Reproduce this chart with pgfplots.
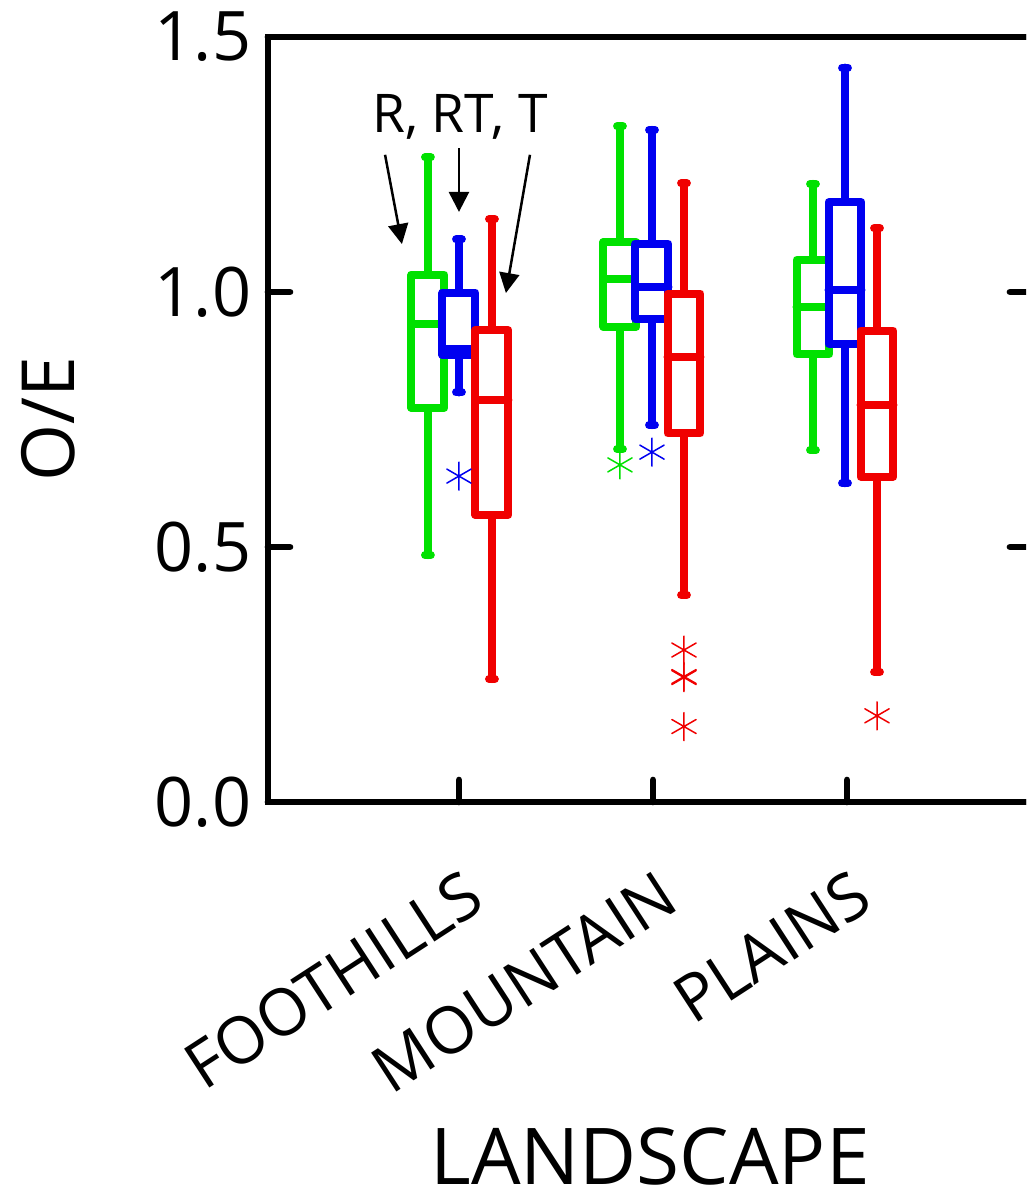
\documentclass[border=0pt]{standalone}
\usepackage{fontspec}
\setmainfont{Open Sans}
\usepackage{pgfplots}
\pgfplotsset{compat=1.18}
\usepgfplotslibrary{statistics}
\usetikzlibrary{arrows.meta}
\definecolor{cg}{RGB}{0,225,0}
\definecolor{cb}{RGB}{0,0,240}
\definecolor{cr}{RGB}{240,0,0}
\begin{document}
\begin{tikzpicture}
\path[use as bounding box] (-80.4pt,-117.9pt) rectangle (227.4pt,240.6pt);
\clip (-80.4pt,-117.9pt) rectangle (227.4pt,240.6pt);
\begin{axis}[
  at={(0pt,0pt)}, anchor=south west,
  scale only axis, width=229.2pt, height=229.5pt,
  xmin=0.0155, xmax=3.954, ymin=0, ymax=1.5,
  axis line style={line width=2pt},
  tick align=inside, xtick pos=bottom, ytick pos=both,
  major tick length=6.6pt,
  tick style={line width=2pt, line cap=round, black},
  xtick={1,2,3}, xticklabels={FOOTHILLS,MOUNTAIN,PLAINS},
  ytick={0,0.5,1,1.5}, yticklabels={0.0,0.5,1.0,1.5},
  yticklabel style={font=\fontsize{20.5}{24}\selectfont, xshift=-1.5pt},
  xticklabel style={font=\fontsize{19.5}{24}\selectfont, rotate=33, anchor=north east, xshift=-6.5pt, yshift=-13.5pt},
  xlabel={LANDSCAPE}, ylabel={O/E},
  every axis x label/.style={at={(axis description cs:0.5,-0.463)}, anchor=center, font=\fontsize{23.5}{28}\selectfont},
  every axis y label/.style={at={(axis description cs:-0.288,0.5)}, anchor=center, rotate=90, font=\fontsize{22}{26}\selectfont},
  clip=false,
  boxplot/draw direction=y,
  boxplot/box extend=0.17,
  boxplot/whisker extend=0.03,
  boxplot/every box/.style={fill=white},
  every axis plot/.append style={line width=2.4pt, line cap=round, line join=round},
]
% FOOTHILLS
\addplot[cg, mark=asterisk, mark size=4.2pt, mark options={line width=0.45pt, solid},
  boxplot prepared={draw position=0.840, lower whisker=0.484, lower quartile=0.773, median=0.937, upper quartile=1.034, upper whisker=1.264}] coordinates {};
\addplot[cb, mark=asterisk, mark size=4.2pt, mark options={line width=0.45pt, solid},
  boxplot prepared={draw position=1.000, lower whisker=0.803, lower quartile=0.876, median=0.888, upper quartile=0.999, upper whisker=1.103}] coordinates {(0,0.639)};
\addplot[cr, mark=asterisk, mark size=4.2pt, mark options={line width=0.45pt, solid},
  boxplot prepared={draw position=1.170, lower whisker=0.241, lower quartile=0.563, median=0.788, upper quartile=0.925, upper whisker=1.143}] coordinates {};
% MOUNTAIN
\addplot[cg, mark=asterisk, mark size=4.2pt, mark options={line width=0.45pt, solid},
  boxplot prepared={draw position=1.830, lower whisker=0.692, lower quartile=0.932, median=1.026, upper quartile=1.098, upper whisker=1.325}] coordinates {(0,0.661)};
\addplot[cb, mark=asterisk, mark size=4.2pt, mark options={line width=0.45pt, solid},
  boxplot prepared={draw position=1.995, lower whisker=0.739, lower quartile=0.948, median=1.009, upper quartile=1.095, upper whisker=1.318}] coordinates {(0,0.686)};
\addplot[cr, mark=asterisk, mark size=4.2pt, mark options={line width=0.45pt, solid},
  boxplot prepared={draw position=2.160, lower whisker=0.406, lower quartile=0.723, median=0.873, upper quartile=0.997, upper whisker=1.213}] coordinates {(0,0.298) (0,0.244) (0,0.246) (0,0.148)};
% PLAINS
\addplot[cg, mark=asterisk, mark size=4.2pt, mark options={line width=0.45pt, solid},
  boxplot prepared={draw position=2.825, lower whisker=0.690, lower quartile=0.878, median=0.971, upper quartile=1.063, upper whisker=1.212}] coordinates {};
\addplot[cb, mark=asterisk, mark size=4.2pt, mark options={line width=0.45pt, solid},
  boxplot prepared={draw position=2.990, lower whisker=0.625, lower quartile=0.899, median=1.004, upper quartile=1.176, upper whisker=1.440}] coordinates {};
\addplot[cr, mark=asterisk, mark size=4.2pt, mark options={line width=0.45pt, solid},
  boxplot prepared={draw position=3.155, lower whisker=0.255, lower quartile=0.638, median=0.778, upper quartile=0.924, upper whisker=1.125}] coordinates {(0,0.169)};
% annotation
\node[font=\fontsize{16}{18}\selectfont] at (axis cs:1.005,1.343) {R, RT, T};
\draw[line width=0.75pt, -{Triangle[length=6pt,width=6pt]}] (axis cs:0.619,1.269) -- (axis cs:0.706,1.094);
\draw[line width=0.75pt, -{Triangle[length=6pt,width=6pt]}] (axis cs:1.0,1.282) -- (axis cs:1.0,1.157);
\draw[line width=0.75pt, -{Triangle[length=6pt,width=6pt]}] (axis cs:1.366,1.269) -- (axis cs:1.242,0.998);
\end{axis}
\end{tikzpicture}
\end{document}
